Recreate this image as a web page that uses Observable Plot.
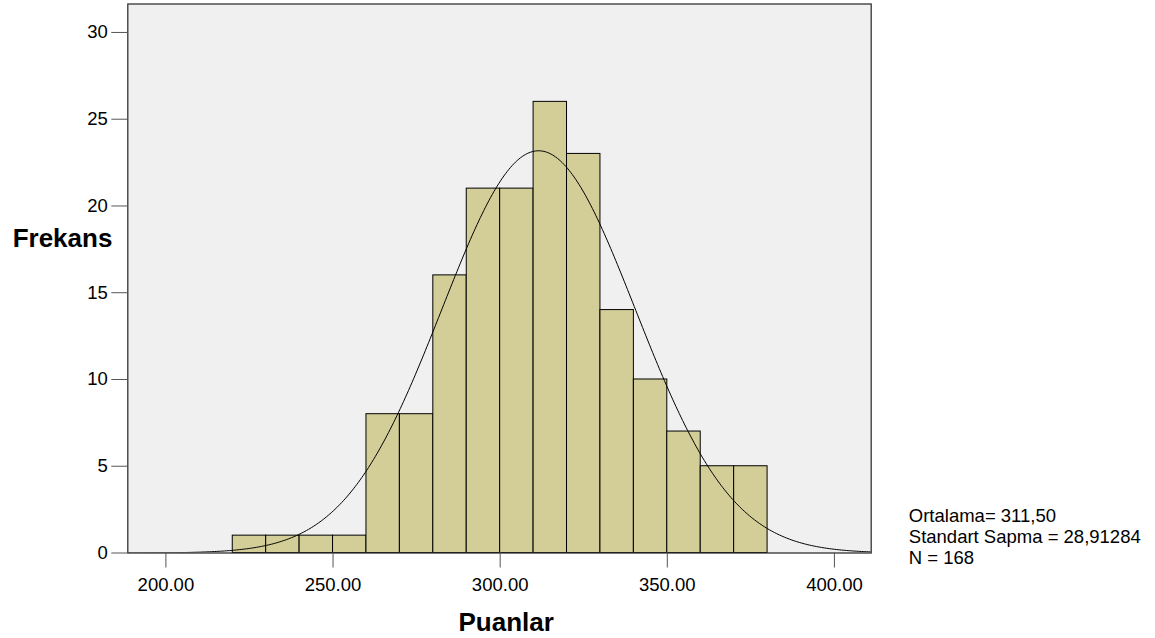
<!DOCTYPE html>
<html>
<head>
<meta charset="utf-8">
<script src="https://cdn.jsdelivr.net/npm/d3@7"></script>
<script src="https://cdn.jsdelivr.net/npm/@observablehq/plot@0.6"></script>
<style>
  html, body { margin: 0; padding: 0; background: #fff; }
  #chart svg { display: block; }
</style>
</head>
<body>
<div id="chart"></div>
<script>
// Histogram of scores (Puanlar), bin width 10
const binStarts = [220, 230, 240, 250, 260, 270, 280, 290, 300, 310, 320, 330, 340, 350, 360, 370];
const counts    = [1, 1, 1, 1, 8, 8, 16, 21, 21, 26, 23, 14, 10, 7, 5, 5];
const binWidth = 10;

// Summary statistics shown beside the chart
const mean = 311.5;
const sd = 28.91284;
const n = 168;
const statLines = ["Ortalama= 311,50", "Standart Sapma = 28,91284", "N = 168"];

const xTicks = [200, 250, 300, 350, 400];
const yTicks = [0, 5, 10, 15, 20, 25, 30];
const xDomain = [188.6, 411];
const yDomain = [0, 31.64];

const bins = binStarts.map((x1, i) => ({x1, x2: x1 + binWidth, count: counts[i]}));

// Fitted normal curve, scaled to counts per bin
const scale = n * binWidth;
const curve = d3.range(xDomain[0], xDomain[1] + 0.25, 0.5).map(x => ({
  x,
  y: scale * Math.exp(-0.5 * ((x - mean) / sd) ** 2) / (sd * Math.sqrt(2 * Math.PI))
}));

const font = "'Liberation Sans', Arial, sans-serif";

const chart = Plot.plot({
  width: 1155,
  height: 638,
  marginLeft: 127.3,
  marginRight: 284.3,
  marginTop: 3.5,
  marginBottom: 85.5,
  style: {fontFamily: font, fontSize: "18.5px", color: "#000", background: "#fff"},
  x: {domain: xDomain},
  y: {domain: yDomain},
  marks: [
    Plot.frame({fill: "#f0f0f0", stroke: null}),
    Plot.rectY(bins, {x1: "x1", x2: "x2", y: "count", fill: "#d3ce98", stroke: "#000", strokeWidth: 1, inset: 0}),
    Plot.line(curve, {x: "x", y: "y", stroke: "#000", strokeWidth: 1, clip: true}),
    Plot.frame({stroke: "#333", strokeWidth: 1.3}),
    Plot.axisY({ticks: yTicks, tickSize: 16, tickPadding: 4, stroke: "#555", fill: "#000", label: null, tickFormat: d => String(d)}),
    Plot.axisX({ticks: xTicks, tickSize: 15, tickPadding: 9.5, stroke: "#555", fill: "#000", label: null, tickFormat: d => d.toFixed(2)}),
    Plot.text(["Frekans"], {frameAnchor: "top-left", dx: -65.3, dy: 234.5, text: d => d, fontSize: 26, fontWeight: "bold", textAnchor: "middle", lineAnchor: "middle"}),
    Plot.text(["Puanlar"], {frameAnchor: "bottom-left", dx: 505.7 - 127.3, dy: 69.5, text: d => d, fontSize: 26, fontWeight: "bold", textAnchor: "middle", lineAnchor: "middle"}),
    Plot.text([statLines.join("\n")], {frameAnchor: "bottom-right", dx: 37.6, dy: -16.5, text: d => d, fontSize: 18.5, textAnchor: "start", lineAnchor: "middle", lineHeight: 1.14})
  ]
});

document.getElementById("chart").appendChild(chart);
</script>
</body>
</html>
